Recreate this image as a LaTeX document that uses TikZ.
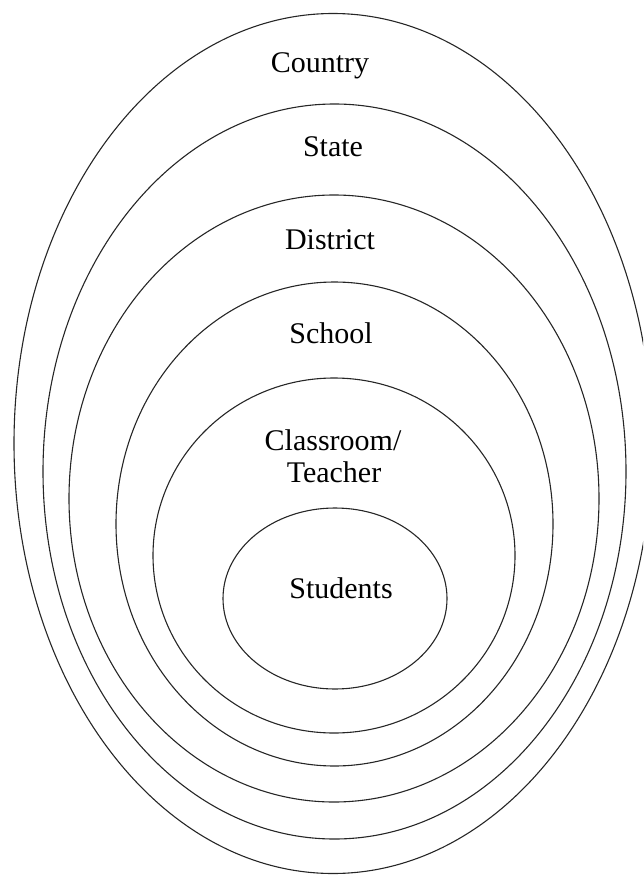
\documentclass[tikz,border=0pt]{standalone}
\usepackage{fontspec}
\setmainfont{Liberation Serif}
\begin{document}
\begin{tikzpicture}[x=1pt,y=-1pt,
  ring/.style={draw=black!85,line width=1.1pt},
  lbl/.style={anchor=base,inner sep=0pt,font=\fontsize{30}{32}\selectfont}]
\useasboundingbox (0,0) rectangle (643,875);
\clip (0,0) rectangle (643,875);
\coordinate (cCountry) at (333,443.5);
\coordinate (cState) at (334.5,471.5);
\coordinate (cDistrict) at (334,498.5);
\coordinate (cSchool) at (334.5,524);
\coordinate (cClass) at (334,555.5);
\coordinate (cStudents) at (335,598.5);
\draw[ring] (cCountry) ellipse [x radius=319pt, y radius=430pt];
\draw[ring] (cState) ellipse [x radius=291.5pt, y radius=367.5pt];
\draw[ring] (cDistrict) ellipse [x radius=265pt, y radius=303.5pt];
\draw[ring] (cSchool) ellipse [x radius=218.5pt, y radius=242pt];
\draw[ring] (cClass) ellipse [x radius=181pt, y radius=177.5pt];
\draw[ring] (cStudents) ellipse [x radius=112pt, y radius=90.5pt];
\node[lbl] (country) at (320,73) {Country};
\node[lbl] (state) at (333,156) {State};
\node[lbl] (district) at (330,249) {District};
\node[lbl] (school) at (331,343) {School};
\node[lbl] (classroom) at (333,450) {Classroom/};
\node[lbl] (teacher) at (334,482) {Teacher};
\node[lbl] (students) at (341,598) {Students};
\end{tikzpicture}
\end{document}
